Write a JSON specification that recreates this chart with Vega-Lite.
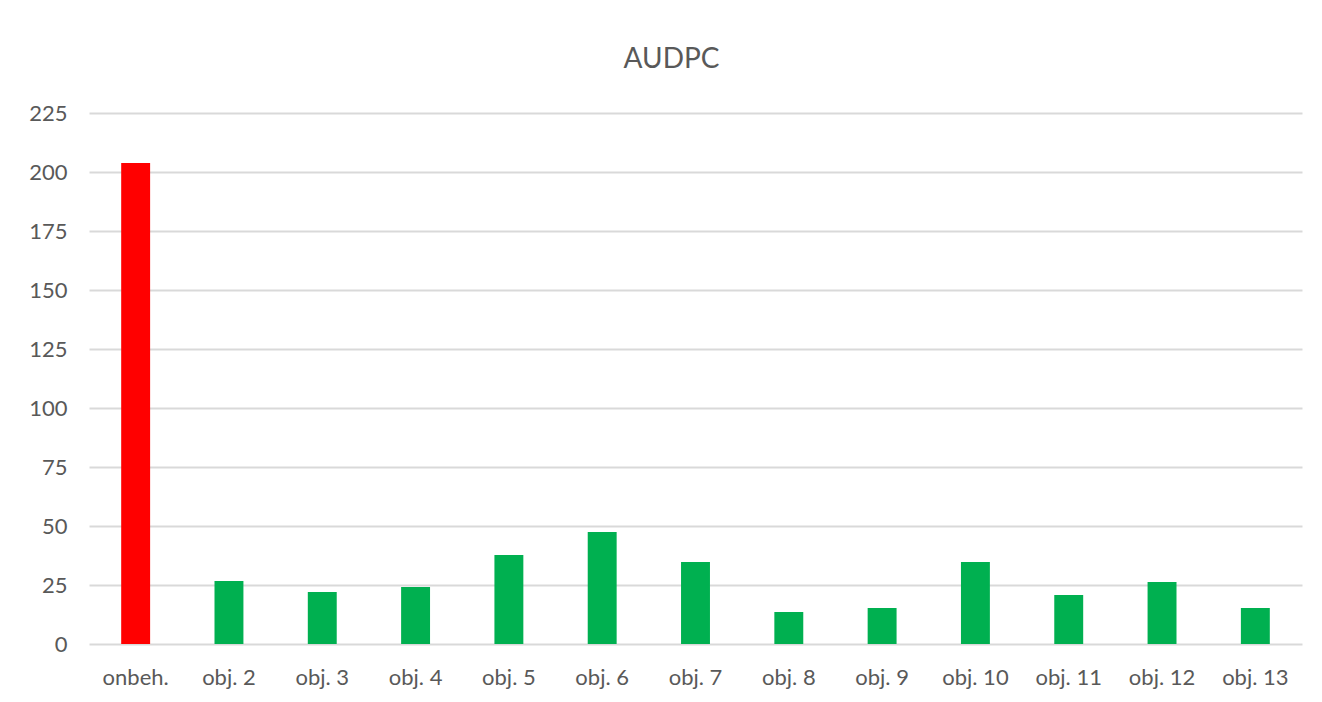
{
  "$schema": "https://vega.github.io/schema/vega-lite/v6.json",
  "width": 1213,
  "height": 531,
  "autosize": {"type": "none"},
  "padding": {"left": 89, "top": 113, "right": 20, "bottom": 58},
  "background": "#ffffff",
  "title": {
    "text": "AUDPC",
    "font": "Lato",
    "fontSize": 28,
    "fontWeight": "normal",
    "color": "#595959",
    "anchor": "middle",
    "frame": "group",
    "dx": -24,
    "offset": 28
  },
  "data": {
    "values": [
      {"cat": "onbeh.", "v": 203.8},
      {"cat": "obj. 2", "v": 26.7},
      {"cat": "obj. 3", "v": 22.0},
      {"cat": "obj. 4", "v": 24.2},
      {"cat": "obj. 5", "v": 37.7},
      {"cat": "obj. 6", "v": 47.5},
      {"cat": "obj. 7", "v": 34.7},
      {"cat": "obj. 8", "v": 13.6},
      {"cat": "obj. 9", "v": 15.3},
      {"cat": "obj. 10", "v": 34.7},
      {"cat": "obj. 11", "v": 20.8},
      {"cat": "obj. 12", "v": 26.3},
      {"cat": "obj. 13", "v": 15.3}
    ]
  },
  "mark": {"type": "bar"},
  "encoding": {
    "x": {
      "field": "cat",
      "type": "nominal",
      "sort": null,
      "title": null,
      "scale": {"paddingInner": 0.69, "paddingOuter": 0.345},
      "axis": {"labelAngle": 0, "domain": false, "ticks": false, "labelPadding": 23, "grid": false}
    },
    "y": {
      "field": "v",
      "type": "quantitative",
      "title": null,
      "scale": {"domain": [0, 225], "nice": false},
      "axis": {"values": [0, 25, 50, 75, 100, 125, 150, 175, 200, 225], "domain": false, "ticks": false, "labelPadding": 22, "grid": true}
    },
    "color": {
      "condition": {"test": "datum.cat === 'onbeh.'", "value": "#FF0000"},
      "value": "#00B050"
    }
  },
  "config": {
    "view": {"stroke": null},
    "axis": {
      "labelFont": "Lato",
      "labelFontSize": 22,
      "labelColor": "#595959",
      "gridColor": "#d9d9d9",
      "gridWidth": 2,
      "gridOpacity": 1
    }
  }
}
